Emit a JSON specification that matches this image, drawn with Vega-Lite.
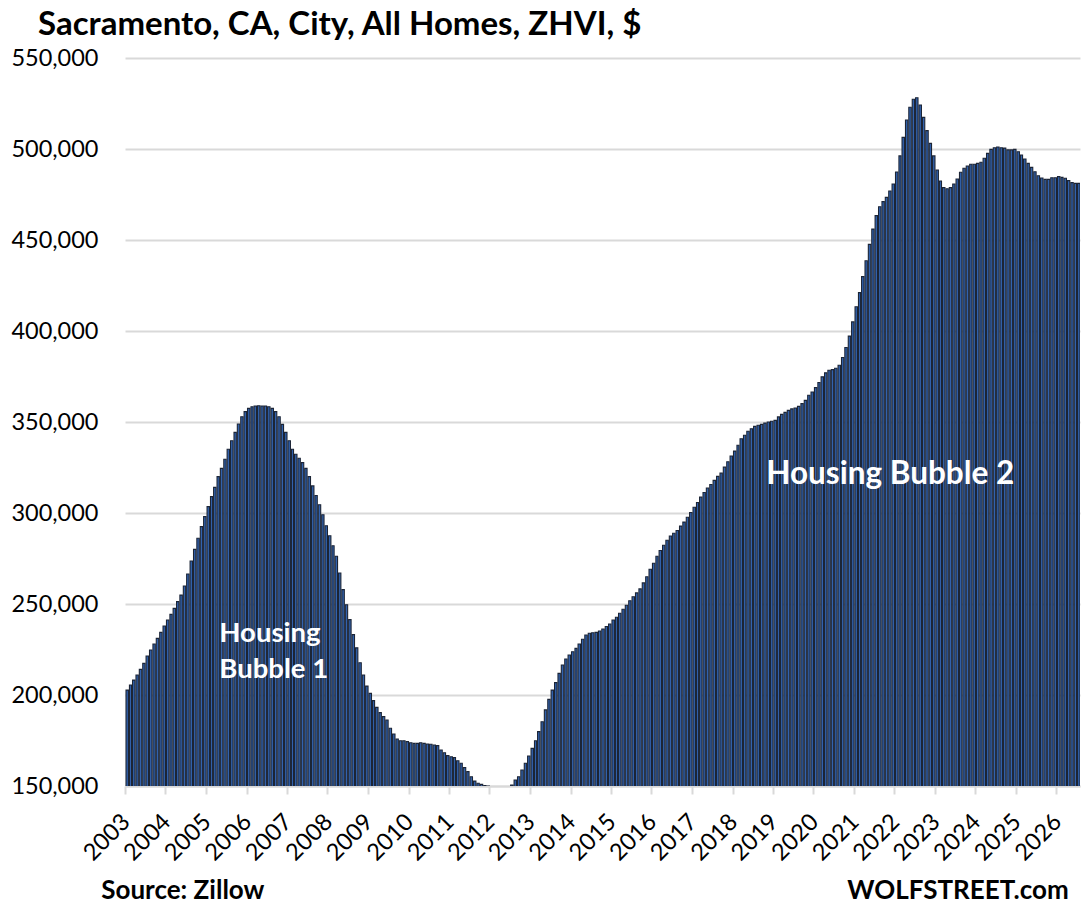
{
  "$schema": "https://vega.github.io/schema/vega-lite/v6.json",
  "width": 955,
  "height": 728,
  "autosize": {"type": "none"},
  "padding": {"left": 125, "top": 58, "right": 3, "bottom": 130},
  "background": "white",
  "title": {
    "text": "Sacramento, CA, City, All Homes, ZHVI, $",
    "anchor": "start",
    "frame": "group",
    "dx": -87,
    "dy": 35,
    "offset": 6,
    "baseline": "bottom",
    "font": "Lato",
    "fontSize": 33,
    "fontWeight": "bold",
    "color": "#000000"
  },
  "config": {"view": {"stroke": null}},
  "datasets": {
    "zhvi": [
      {"date": "2003-01", "v": 202700}, {"date": "2003-02", "v": 205500}, {"date": "2003-03", "v": 208200}, {"date": "2003-04", "v": 211000},
      {"date": "2003-05", "v": 214100}, {"date": "2003-06", "v": 217400}, {"date": "2003-07", "v": 221400}, {"date": "2003-08", "v": 224700},
      {"date": "2003-09", "v": 228000}, {"date": "2003-10", "v": 231100}, {"date": "2003-11", "v": 234400}, {"date": "2003-12", "v": 237900},
      {"date": "2004-01", "v": 241200}, {"date": "2004-02", "v": 244300}, {"date": "2004-03", "v": 247600}, {"date": "2004-04", "v": 251300},
      {"date": "2004-05", "v": 254900}, {"date": "2004-06", "v": 259900}, {"date": "2004-07", "v": 266500}, {"date": "2004-08", "v": 273600},
      {"date": "2004-09", "v": 280000}, {"date": "2004-10", "v": 286100}, {"date": "2004-11", "v": 292500}, {"date": "2004-12", "v": 298000},
      {"date": "2005-01", "v": 303500}, {"date": "2005-02", "v": 309000}, {"date": "2005-03", "v": 314100}, {"date": "2005-04", "v": 320000},
      {"date": "2005-05", "v": 324500}, {"date": "2005-06", "v": 329500}, {"date": "2005-07", "v": 335000}, {"date": "2005-08", "v": 339700},
      {"date": "2005-09", "v": 344300}, {"date": "2005-10", "v": 348900}, {"date": "2005-11", "v": 352900}, {"date": "2005-12", "v": 355700},
      {"date": "2006-01", "v": 357500}, {"date": "2006-02", "v": 358400}, {"date": "2006-03", "v": 358800}, {"date": "2006-04", "v": 358900},
      {"date": "2006-05", "v": 358800}, {"date": "2006-06", "v": 358800}, {"date": "2006-07", "v": 358400}, {"date": "2006-08", "v": 357500},
      {"date": "2006-09", "v": 355700}, {"date": "2006-10", "v": 352900}, {"date": "2006-11", "v": 348700}, {"date": "2006-12", "v": 344300},
      {"date": "2007-01", "v": 339700}, {"date": "2007-02", "v": 335000}, {"date": "2007-03", "v": 332300}, {"date": "2007-04", "v": 330100},
      {"date": "2007-05", "v": 327700}, {"date": "2007-06", "v": 324500}, {"date": "2007-07", "v": 320000}, {"date": "2007-08", "v": 314900},
      {"date": "2007-09", "v": 309600}, {"date": "2007-10", "v": 304500}, {"date": "2007-11", "v": 299000}, {"date": "2007-12", "v": 293000},
      {"date": "2008-01", "v": 287500}, {"date": "2008-02", "v": 282000}, {"date": "2008-03", "v": 276200}, {"date": "2008-04", "v": 267000},
      {"date": "2008-05", "v": 257900}, {"date": "2008-06", "v": 249600}, {"date": "2008-07", "v": 241400}, {"date": "2008-08", "v": 233200},
      {"date": "2008-09", "v": 225900}, {"date": "2008-10", "v": 217700}, {"date": "2008-11", "v": 211000}, {"date": "2008-12", "v": 204900},
      {"date": "2009-01", "v": 200900}, {"date": "2009-02", "v": 196900}, {"date": "2009-03", "v": 193200}, {"date": "2009-04", "v": 190300},
      {"date": "2009-05", "v": 188100}, {"date": "2009-06", "v": 186300}, {"date": "2009-07", "v": 181700}, {"date": "2009-08", "v": 178600},
      {"date": "2009-09", "v": 175800}, {"date": "2009-10", "v": 174900}, {"date": "2009-11", "v": 174900}, {"date": "2009-12", "v": 174400},
      {"date": "2010-01", "v": 173800}, {"date": "2010-02", "v": 173400}, {"date": "2010-03", "v": 173400}, {"date": "2010-04", "v": 173800},
      {"date": "2010-05", "v": 173400}, {"date": "2010-06", "v": 173100}, {"date": "2010-07", "v": 172900}, {"date": "2010-08", "v": 172500},
      {"date": "2010-09", "v": 172200}, {"date": "2010-10", "v": 169800}, {"date": "2010-11", "v": 168300}, {"date": "2010-12", "v": 166700},
      {"date": "2011-01", "v": 166100}, {"date": "2011-02", "v": 165600}, {"date": "2011-03", "v": 163900}, {"date": "2011-04", "v": 162500},
      {"date": "2011-05", "v": 160100}, {"date": "2011-06", "v": 157900}, {"date": "2011-07", "v": 155100}, {"date": "2011-08", "v": 152700},
      {"date": "2011-09", "v": 151500}, {"date": "2011-10", "v": 150900}, {"date": "2011-11", "v": 150200}, {"date": "2011-12", "v": 150000},
      {"date": "2012-01", "v": 149200}, {"date": "2012-02", "v": 148400}, {"date": "2012-03", "v": 147800}, {"date": "2012-04", "v": 147500},
      {"date": "2012-05", "v": 147900}, {"date": "2012-06", "v": 149000}, {"date": "2012-07", "v": 150500}, {"date": "2012-08", "v": 153300},
      {"date": "2012-09", "v": 155100}, {"date": "2012-10", "v": 158800}, {"date": "2012-11", "v": 162500}, {"date": "2012-12", "v": 166500},
      {"date": "2013-01", "v": 170700}, {"date": "2013-02", "v": 174900}, {"date": "2013-03", "v": 179900}, {"date": "2013-04", "v": 185300},
      {"date": "2013-05", "v": 191800}, {"date": "2013-06", "v": 197600}, {"date": "2013-07", "v": 202700}, {"date": "2013-08", "v": 206800},
      {"date": "2013-09", "v": 211900}, {"date": "2013-10", "v": 216500}, {"date": "2013-11", "v": 219800}, {"date": "2013-12", "v": 222000},
      {"date": "2014-01", "v": 223800}, {"date": "2014-02", "v": 225600}, {"date": "2014-03", "v": 228000}, {"date": "2014-04", "v": 230600},
      {"date": "2014-05", "v": 233000}, {"date": "2014-06", "v": 233900}, {"date": "2014-07", "v": 234200}, {"date": "2014-08", "v": 234400},
      {"date": "2014-09", "v": 235200}, {"date": "2014-10", "v": 236300}, {"date": "2014-11", "v": 237600}, {"date": "2014-12", "v": 239000},
      {"date": "2015-01", "v": 241200}, {"date": "2015-02", "v": 242700}, {"date": "2015-03", "v": 244900}, {"date": "2015-04", "v": 247100},
      {"date": "2015-05", "v": 249300}, {"date": "2015-06", "v": 251800}, {"date": "2015-07", "v": 254000}, {"date": "2015-08", "v": 256100},
      {"date": "2015-09", "v": 258300}, {"date": "2015-10", "v": 261600}, {"date": "2015-11", "v": 265000}, {"date": "2015-12", "v": 269100},
      {"date": "2016-01", "v": 272400}, {"date": "2016-02", "v": 276200}, {"date": "2016-03", "v": 279400}, {"date": "2016-04", "v": 282300},
      {"date": "2016-05", "v": 285000}, {"date": "2016-06", "v": 287400}, {"date": "2016-07", "v": 288900}, {"date": "2016-08", "v": 290400},
      {"date": "2016-09", "v": 292800}, {"date": "2016-10", "v": 295000}, {"date": "2016-11", "v": 297700}, {"date": "2016-12", "v": 300300},
      {"date": "2017-01", "v": 303200}, {"date": "2017-02", "v": 305800}, {"date": "2017-03", "v": 308700}, {"date": "2017-04", "v": 311300},
      {"date": "2017-05", "v": 313700}, {"date": "2017-06", "v": 315700}, {"date": "2017-07", "v": 317900}, {"date": "2017-08", "v": 320100},
      {"date": "2017-09", "v": 321900}, {"date": "2017-10", "v": 325200}, {"date": "2017-11", "v": 328200}, {"date": "2017-12", "v": 331300},
      {"date": "2018-01", "v": 334000}, {"date": "2018-02", "v": 337200}, {"date": "2018-03", "v": 340800}, {"date": "2018-04", "v": 342700},
      {"date": "2018-05", "v": 344900}, {"date": "2018-06", "v": 346300}, {"date": "2018-07", "v": 347600}, {"date": "2018-08", "v": 348200},
      {"date": "2018-09", "v": 348700}, {"date": "2018-10", "v": 349400}, {"date": "2018-11", "v": 350000}, {"date": "2018-12", "v": 350400},
      {"date": "2019-01", "v": 350900}, {"date": "2019-02", "v": 352800}, {"date": "2019-03", "v": 354200}, {"date": "2019-04", "v": 355300},
      {"date": "2019-05", "v": 356400}, {"date": "2019-06", "v": 357200}, {"date": "2019-07", "v": 357700}, {"date": "2019-08", "v": 358600},
      {"date": "2019-09", "v": 360100}, {"date": "2019-10", "v": 361900}, {"date": "2019-11", "v": 364700}, {"date": "2019-12", "v": 366500},
      {"date": "2020-01", "v": 368900}, {"date": "2020-02", "v": 371700}, {"date": "2020-03", "v": 374800}, {"date": "2020-04", "v": 377000},
      {"date": "2020-05", "v": 378400}, {"date": "2020-06", "v": 378800}, {"date": "2020-07", "v": 379500}, {"date": "2020-08", "v": 381200},
      {"date": "2020-09", "v": 385400}, {"date": "2020-10", "v": 390900}, {"date": "2020-11", "v": 397200}, {"date": "2020-12", "v": 405000},
      {"date": "2021-01", "v": 413300}, {"date": "2021-02", "v": 421100}, {"date": "2021-03", "v": 429900}, {"date": "2021-04", "v": 438600},
      {"date": "2021-05", "v": 447600}, {"date": "2021-06", "v": 456000}, {"date": "2021-07", "v": 463400}, {"date": "2021-08", "v": 468300},
      {"date": "2021-09", "v": 471100}, {"date": "2021-10", "v": 473400}, {"date": "2021-11", "v": 476900}, {"date": "2021-12", "v": 480800},
      {"date": "2022-01", "v": 487400}, {"date": "2022-02", "v": 496200}, {"date": "2022-03", "v": 506400}, {"date": "2022-04", "v": 515900},
      {"date": "2022-05", "v": 522900}, {"date": "2022-06", "v": 527300}, {"date": "2022-07", "v": 528200}, {"date": "2022-08", "v": 524200},
      {"date": "2022-09", "v": 517400}, {"date": "2022-10", "v": 510100}, {"date": "2022-11", "v": 503100}, {"date": "2022-12", "v": 496200},
      {"date": "2023-01", "v": 488500}, {"date": "2023-02", "v": 482400}, {"date": "2023-03", "v": 478800}, {"date": "2023-04", "v": 478200},
      {"date": "2023-05", "v": 478800}, {"date": "2023-06", "v": 480800}, {"date": "2023-07", "v": 483500}, {"date": "2023-08", "v": 487200},
      {"date": "2023-09", "v": 489400}, {"date": "2023-10", "v": 490700}, {"date": "2023-11", "v": 491600}, {"date": "2023-12", "v": 491600},
      {"date": "2024-01", "v": 492100}, {"date": "2024-02", "v": 492700}, {"date": "2024-03", "v": 494900}, {"date": "2024-04", "v": 497600},
      {"date": "2024-05", "v": 499800}, {"date": "2024-06", "v": 500700}, {"date": "2024-07", "v": 501100}, {"date": "2024-08", "v": 500700},
      {"date": "2024-09", "v": 500500}, {"date": "2024-10", "v": 499500}, {"date": "2024-11", "v": 499500}, {"date": "2024-12", "v": 499800},
      {"date": "2025-01", "v": 498500}, {"date": "2025-02", "v": 496700}, {"date": "2025-03", "v": 494500}, {"date": "2025-04", "v": 492100},
      {"date": "2025-05", "v": 489900}, {"date": "2025-06", "v": 487500}, {"date": "2025-07", "v": 485300}, {"date": "2025-08", "v": 484100},
      {"date": "2025-09", "v": 483300}, {"date": "2025-10", "v": 483300}, {"date": "2025-11", "v": 484200}, {"date": "2025-12", "v": 484200},
      {"date": "2026-01", "v": 484800}, {"date": "2026-02", "v": 484400}, {"date": "2026-03", "v": 483900}, {"date": "2026-04", "v": 482600},
      {"date": "2026-05", "v": 481500}, {"date": "2026-06", "v": 481100}, {"date": "2026-07", "v": 481100}
    ],
    "bubbles": [
      {"date": "2005-05", "v": 229300, "t": "Housing"},
      {"date": "2005-05", "v": 209500, "t": "Bubble 1"}
    ],
    "bubble2": [
      {"date": "2018-11", "v": 315900, "t": "Housing Bubble 2"}
    ],
    "footer": [
      {"date": "2002-06", "v": 87900, "t": "Source: Zillow"},
      {"date": "2020-11", "v": 87900, "t": "WOLFSTREET.com"}
    ]
  },
  "encoding": {
    "x": {
      "field": "date",
      "timeUnit": "utcyearmonth",
      "type": "temporal",
      "title": null,
      "scale": {
        "domain": [
          {"year": 2003, "month": 1, "date": 1, "utc": true},
          {"year": 2026, "month": 8, "date": 1, "utc": true}
        ]
      },
      "axis": {
        "format": "%Y",
        "tickCount": {"interval": "year", "step": 1},
        "labelAngle": -45,
        "labelAlign": "right",
        "labelBaseline": "middle",
        "labelPadding": 24,
        "labelOffset": 1,
        "labelOverlap": false,
        "labelFlush": false,
        "labelFont": "Lato",
        "labelFontSize": 23.5,
        "labelColor": "#000000",
        "grid": false,
        "domainColor": "#d9d9d9",
        "domainWidth": 2,
        "tickColor": "#d9d9d9",
        "tickWidth": 2,
        "tickSize": 8
      }
    },
    "y": {
      "field": "v",
      "type": "quantitative",
      "title": null,
      "scale": {"domain": [150000, 550000], "zero": false},
      "axis": {
        "values": [150000, 200000, 250000, 300000, 350000, 400000, 450000, 500000, 550000],
        "format": ",.0f",
        "domain": false,
        "ticks": false,
        "labelPadding": 27,
        "labelOverlap": false,
        "labelFont": "Lato",
        "labelFontSize": 23.5,
        "labelColor": "#000000",
        "gridColor": "#d9d9d9",
        "gridWidth": 2
      }
    }
  },
  "layer": [
    {
      "data": {"name": "zhvi"},
      "mark": {
        "type": "bar",
        "clip": true,
        "fill": "#3262ad",
        "stroke": "#1c2536",
        "strokeWidth": 1.1
      }
    },
    {
      "data": {"name": "bubbles"},
      "mark": {
        "type": "text",
        "align": "left",
        "baseline": "alphabetic",
        "font": "Lato",
        "fontSize": 27.5,
        "fontWeight": "bold",
        "color": "#ffffff"
      },
      "encoding": {"text": {"field": "t"}}
    },
    {
      "data": {"name": "bubble2"},
      "mark": {
        "type": "text",
        "align": "left",
        "baseline": "alphabetic",
        "font": "Lato",
        "fontSize": 31.5,
        "fontWeight": "bold",
        "color": "#ffffff"
      },
      "encoding": {"text": {"field": "t"}}
    },
    {
      "data": {"name": "footer"},
      "mark": {
        "type": "text",
        "align": "left",
        "baseline": "alphabetic",
        "font": "Lato",
        "fontSize": 26,
        "fontWeight": "bold",
        "color": "#000000"
      },
      "encoding": {"text": {"field": "t"}}
    }
  ]
}
